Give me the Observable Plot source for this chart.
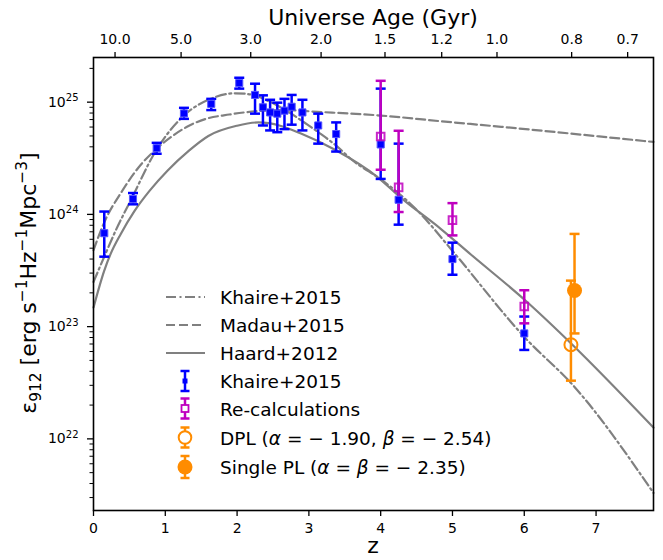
<!DOCTYPE html>
<html><head><meta charset="utf-8">
<script src="https://cdn.jsdelivr.net/npm/d3@7"></script>
<script src="https://cdn.jsdelivr.net/npm/@observablehq/plot@0.6"></script>
<style>
body{margin:0;background:#fff;font-family:"DejaVu Sans",sans-serif;}
#chart svg{display:block;}
</style></head><body><div id="chart"></div>
<script>
// ---------- data ----------
// Khaire+2015 measurements (blue)
const khZ   = [0.15,0.55,0.88,1.26,1.64,2.03,2.25,2.36,2.46,2.56,2.66,2.76,2.91,3.13,3.38,4.0,4.25,5.0,6.0];
const khV   = [6.8e23,1.37e24,3.89e24,7.94e24,9.66e24,1.48e25,1.16e25,9.0e24,8.1e24,7.9e24,8.4e24,9.1e24,8.1e24,6.2e24,5.2e24,4.2e24,1.35e24,4.0e23,8.7e22];
const khHi  = [1.06e24,1.55e24,4.34e24,8.9e24,1.07e25,1.65e25,1.46e25,1.15e25,1.05e25,9.9e24,1.07e25,1.16e25,1.05e25,7.9e24,6.6e24,1.32e25,4.27e24,5.6e23,1.23e23];
const khLo  = [4.2e23,1.23e24,3.47e24,7.1e24,8.5e24,1.32e25,7.9e24,6.2e24,5.6e24,5.4e24,5.75e24,6.3e24,5.6e24,4.27e24,3.63e24,2.07e24,8.1e23,2.9e23,6.2e22];
// Re-calculations (magenta)
const rcZ   = [4.0,4.25,5.0,6.0];
const rcV   = [4.94e24,1.74e24,8.9e23,1.51e23];
const rcHi  = [1.55e25,5.56e24,1.26e24,2.11e23];
const rcLo  = [2.5e24,1.05e24,6.5e23,1.07e23];
// DPL (open orange) and Single PL (filled orange)
const dplZ = [6.65], dplV = [6.9e22], dplHi = [2.57e23], dplLo = [3.3e22];
const splZ = [6.70], splV = [2.1e23], splHi = [6.7e23], splLo = [8.7e22];
// model curves
const madZ = [0,0.15,0.4,0.63,0.87,1.1,1.33,1.56,1.89,2.26,2.65,3.12,4.0,4.84,5.68,7.8];
const madV = [4.8e23,8.5e23,1.62e24,2.63e24,3.8e24,5.0e24,6.17e24,7.08e24,7.76e24,8.3e24,8.5e24,8.2e24,7.6e24,6.76e24,6.03e24,4.42e24];
const khmZ = [0,0.17,0.31,0.53,0.87,1.26,1.63,1.98,2.19,2.44,2.7,2.98,3.13,3.38,3.59,4.05,4.52,4.98,6.0,6.7,7.8];
const khmV = [2.5e23,4.5e23,7.2e23,1.38e24,3.7e24,7.6e24,1.07e25,1.2e25,1.17e25,1.02e25,8.3e24,6.3e24,5.4e24,4.1e24,3.1e24,1.95e24,1.07e24,4.9e23,8.1e22,2.9e22,3.3e21];
const haZ  = [0,0.15,0.24,0.38,0.57,0.78,1.03,1.33,1.6,2.0,2.3,2.6,2.89,3.35,3.96,4.28,4.84,5.26,6.02,6.67,7.8];
const haV  = [1.48e23,3.16e23,4.47e23,6.7e23,1.07e24,1.62e24,2.45e24,3.7e24,5.0e24,6.17e24,6.6e24,6.17e24,5.25e24,3.8e24,2.14e24,1.41e24,7.4e23,4.37e23,1.7e23,6.9e22,1.26e22];
// ticks
const xTicks = [0,1,2,3,4,5,6,7];
const ageLabels = ["10.0","5.0","3.0","2.0","1.5","1.2","1.0","0.8","0.7"];
const ageZ = [0.30,1.22,2.19,3.17,4.06,4.85,5.62,6.66,7.44];
const yMajor = [1e22,1e23,1e24,1e25];
const legendLabels = ["Khaire+2015","Madau+2015","Haard+2012","Khaire+2015","Re-calculations","DPL","Single PL"];

// ---------- build tables ----------
const pts = (z,v,hi,lo) => z.map((d,i)=>({z:d,v:v[i],hi:hi[i],lo:lo[i]}));
const kh = pts(khZ,khV,khHi,khLo), rc = pts(rcZ,rcV,rcHi,rcLo);
const dpl = pts(dplZ,dplV,dplHi,dplLo), spl = pts(splZ,splV,splHi,splLo);
const curve = (z,v) => z.map((d,i)=>({z:d,v:v[i]}));
const mad = curve(madZ,madV), khm = curve(khmZ,khmV), ha = curve(haZ,haV);
const yMinor = [];
for (let k=21;k<=25;k++) for (let m=2;m<=9;m++){const t=m*Math.pow(10,k); if(t>=2.3e21&&t<=2.5e25) yMinor.push(t);}
const ageMap = new Map(ageZ.map((z,i)=>[z,ageLabels[i]]));

const BLUE="#0000ff", MAG="#bf00bf", ORA="#ff8c00", GRAY="#808080";
const cap = {draw(ctx,size){const r=Math.sqrt(size/Math.PI); ctx.moveTo(-r,0); ctx.lineTo(r,0);}};
const DASH="9,4", DASHDOT="10,3.5,2,3.5";

function errMarks(data,color,sw){
  return [
    Plot.ruleX(data,{x:"z",y1:"lo",y2:"hi",stroke:color,strokeWidth:sw}),
    Plot.dot(data,{x:"z",y:"hi",symbol:cap,r:5,stroke:color,strokeWidth:sw,fill:"none"}),
    Plot.dot(data,{x:"z",y:"lo",symbol:cap,r:5,stroke:color,strokeWidth:sw,fill:"none"})
  ];
}

const W=663,H=560;
const chart = Plot.plot({
  width:W,height:H,marginLeft:93,marginRight:10,marginTop:57,marginBottom:50,
  style:{fontFamily:"DejaVu Sans",fontSize:"14px",color:"black",background:"white"},
  x:{domain:[0,7.8],axis:null},
  y:{type:"log",domain:[2.3e21,2.5e25],axis:null},
  marks:[
    Plot.line(khm,{x:"z",y:"v",stroke:GRAY,strokeWidth:2.2,strokeDasharray:DASHDOT,curve:"monotone-x"}),
    Plot.line(mad,{x:"z",y:"v",stroke:GRAY,strokeWidth:2.2,strokeDasharray:DASH,curve:"monotone-x"}),
    Plot.line(ha,{x:"z",y:"v",stroke:GRAY,strokeWidth:2.2,curve:"monotone-x"}),
    ...errMarks(kh,BLUE,2.5),
    ...errMarks(rc,MAG,2.5),
    ...errMarks(dpl,ORA,2.5),
    ...errMarks(spl,ORA,2.5),
    Plot.dot(kh,{x:"z",y:"v",symbol:"square",r:4,fill:BLUE,stroke:"#5555ff",strokeWidth:1}),
    Plot.dot(rc,{x:"z",y:"v",symbol:"square",r:4.3,fill:"none",stroke:MAG,strokeWidth:2,strokeOpacity:0.85}),
    Plot.dot(dpl,{x:"z",y:"v",r:6.5,fill:"none",stroke:ORA,strokeWidth:2}),
    Plot.dot(spl,{x:"z",y:"v",r:7.5,fill:ORA}),
    Plot.axisX({anchor:"bottom",ticks:xTicks,tickSize:6,tickPadding:7,label:null,tickFormat:d=>String(d),fontSize:14,strokeWidth:1.3}),
    Plot.axisX({anchor:"top",ticks:ageZ,tickSize:6,tickPadding:8,label:null,tickFormat:d=>ageMap.get(d),fontSize:14,strokeWidth:1.3}),
    Plot.axisY({ticks:yMinor,tickSize:3.5,tickFormat:()=>"",label:null,strokeWidth:1}),
    Plot.axisY({ticks:yMajor,tickSize:6,tickPadding:9,label:null,tickFormat:d=>"10^"+Math.round(Math.log10(d)),fontSize:14,strokeWidth:1.3}),
    Plot.frame({stroke:"black",strokeWidth:1.6})
  ]
});
document.getElementById("chart").appendChild(chart);
const svg = d3.select(chart);

// superscript y tick labels
svg.selectAll('g[aria-label="y-axis tick label"] text').each(function(){
  const t=d3.select(this), s=t.text();
  if(!s.startsWith("10^")) return;
  const e=s.slice(3);
  t.text("10");
  t.append("tspan").attr("dy","-0.55em").attr("font-size","10px").text(e);
});

// axis titles
svg.append("text").attr("x",373).attr("y",25).attr("text-anchor","middle")
  .attr("font-size",22).attr("fill","black").text("Universe Age (Gyr)");
svg.append("text").attr("x",373).attr("y",553).attr("text-anchor","middle")
  .attr("font-size",22).attr("fill","black").text("z");
const yl = svg.append("text").attr("transform","translate(36,283) rotate(-90)")
  .attr("text-anchor","middle").attr("font-size",22).attr("fill","black");
yl.append("tspan").text("ε");
yl.append("tspan").attr("dy",5).attr("font-size",15.4).text("912");
yl.append("tspan").attr("dy",-5).text(" [erg s");
yl.append("tspan").attr("dy",-9).attr("font-size",15.4).text("−1");
yl.append("tspan").attr("dy",9).text("Hz");
yl.append("tspan").attr("dy",-9).attr("font-size",15.4).text("−1");
yl.append("tspan").attr("dy",9).text("Mpc");
yl.append("tspan").attr("dy",-9).attr("font-size",15.4).text("−3");
yl.append("tspan").attr("dy",9).text("]");

// legend
const lg = svg.append("g").attr("text-anchor","start");
const rowY = [297,325,353,381,408.5,437.5,467];
const lx0=166, lx1=205, mx=185, tx=220;
[[DASHDOT],[DASH],[null]].forEach((d,i)=>{
  const l=lg.append("line").attr("x1",lx0).attr("x2",lx1).attr("y1",rowY[i]).attr("y2",rowY[i])
    .attr("stroke",GRAY).attr("stroke-width",2.2);
  if(d[0]) l.attr("stroke-dasharray",d[0]);
});
function legErr(y,color,half){
  lg.append("line").attr("x1",mx).attr("x2",mx).attr("y1",y-half).attr("y2",y+half).attr("stroke",color).attr("stroke-width",2.5);
  [y-half,y+half].forEach(yy=>lg.append("line").attr("x1",mx-4.5).attr("x2",mx+4.5).attr("y1",yy).attr("y2",yy).attr("stroke",color).attr("stroke-width",2.5));
}
legErr(rowY[3],BLUE,10);
lg.append("rect").attr("x",mx-2.5).attr("y",rowY[3]-2.5).attr("width",5).attr("height",5).attr("fill",BLUE);
legErr(rowY[4],MAG,10);
lg.append("rect").attr("x",mx-3.5).attr("y",rowY[4]-3.5).attr("width",7).attr("height",7).attr("fill","white").attr("stroke",MAG).attr("stroke-width",1.8);
legErr(rowY[5],ORA,10);
lg.append("circle").attr("cx",mx).attr("cy",rowY[5]).attr("r",6.3).attr("fill","white").attr("stroke",ORA).attr("stroke-width",2);
legErr(rowY[6],ORA,11);
lg.append("circle").attr("cx",mx).attr("cy",rowY[6]).attr("r",7.5).attr("fill",ORA);

const fs=18.5;
function legText(i){return lg.append("text").attr("x",tx).attr("y",rowY[i]+7).attr("font-size",fs).attr("fill","black").attr("text-anchor","start");}
for(let i=0;i<5;i++) legText(i).text(legendLabels[i]);
const t5=legText(5);
t5.append("tspan").text(legendLabels[5]+" (");
t5.append("tspan").attr("font-style","italic").text("α");
t5.append("tspan").text(" = − 1.90, ");
t5.append("tspan").attr("font-style","italic").text("β");
t5.append("tspan").text(" = − 2.54)");
const t6=legText(6);
t6.append("tspan").text(legendLabels[6]+" (");
t6.append("tspan").attr("font-style","italic").text("α");
t6.append("tspan").text(" = ");
t6.append("tspan").attr("font-style","italic").text("β");
t6.append("tspan").text(" = − 2.35)");
</script></body></html>
